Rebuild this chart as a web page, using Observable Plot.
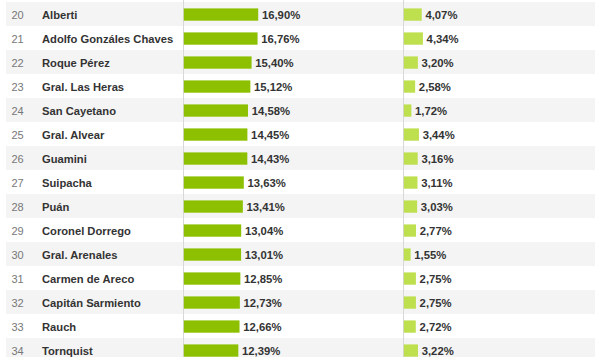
<!DOCTYPE html>
<html>
<head>
<meta charset="utf-8">
<script src="https://cdn.jsdelivr.net/npm/d3@7"></script>
<script src="https://cdn.jsdelivr.net/npm/@observablehq/plot@0.6"></script>
<style>
  html, body { margin: 0; padding: 0; background: #fff; overflow: hidden; }
  #chart { width: 595px; height: 357px; overflow: hidden; }
  #chart svg { display: block; }
</style>
</head>
<body>
<div id="chart"></div>
<script>
const ranks = [20, 21, 22, 23, 24, 25, 26, 27, 28, 29, 30, 31, 32, 33, 34];
const names = ["Alberti", "Adolfo Gonzáles Chaves", "Roque Pérez", "Gral. Las Heras", "San Cayetano",
  "Gral. Alvear", "Guamini", "Suipacha", "Puán", "Coronel Dorrego", "Gral. Arenales",
  "Carmen de Areco", "Capitán Sarmiento", "Rauch", "Tornquist"];
const valuesA = [16.90, 16.76, 15.40, 15.12, 14.58, 14.45, 14.43, 13.63, 13.41, 13.04, 13.01, 12.85, 12.73, 12.66, 12.39];
const valuesB = [4.07, 4.34, 3.20, 2.58, 1.72, 3.44, 3.16, 3.11, 3.03, 2.77, 1.55, 2.75, 2.75, 2.72, 3.22];

const rows = ranks.map((r, i) => ({rank: r, name: names[i], a: valuesA[i], b: valuesB[i]}));
const stripes = rows.filter(d => d.rank % 2 === 0);
const fmt = v => d3.format(".2f")(v).replace(".", ",") + "%";

const font = "'Liberation Sans', Arial, Helvetica, sans-serif";
const colOffset = 220;

const chart = Plot.plot({
  width: 595,
  height: 357,
  marginLeft: 183,
  marginRight: 0,
  marginTop: 0,
  marginBottom: 0,
  style: {fontFamily: font, background: "transparent", overflow: "hidden"},
  x: {domain: [0, 93.6], axis: null},
  y: {type: "band", domain: ranks, range: [-1, 364.7], padding: 0, axis: null},
  marks: [
    Plot.cell(stripes, {y: "rank", fill: "#f4f4f4", insetLeft: -177}),
    Plot.ruleX([0], {stroke: "#d8d8d8", strokeWidth: 1}),
    Plot.ruleX([0], {stroke: "#d8d8d8", strokeWidth: 1, dx: colOffset}),
    Plot.barX(rows, {x: "a", y: "rank", fill: "#8cc000", insetTop: 6.4, insetBottom: 5.3, dx: 0.8}),
    Plot.barX(rows, {x: "b", y: "rank", fill: "#bedf4e", insetTop: 6.4, insetBottom: 5.3, dx: colOffset + 0.8}),
    Plot.text(rows, {x: "a", y: "rank", text: d => fmt(d.a), textAnchor: "start", dx: 4, dy: 1,
      fill: "#333", fontWeight: "bold", fontSize: 11.3}),
    Plot.text(rows, {x: "b", y: "rank", text: d => fmt(d.b), textAnchor: "start", dx: colOffset + 4, dy: 1,
      fill: "#333", fontWeight: "bold", fontSize: 11.3}),
    Plot.text(rows, {y: "rank", text: d => String(d.rank), frameAnchor: "left", textAnchor: "start",
      dx: -172, dy: 0.5, fill: "#777", fontSize: 11}),
    Plot.text(rows, {y: "rank", text: "name", frameAnchor: "left", textAnchor: "start",
      dx: -141.5, dy: 0.5, fill: "#333", fontWeight: "bold", fontSize: 11.2})
  ]
});
document.getElementById("chart").appendChild(chart);
</script>
</body>
</html>
